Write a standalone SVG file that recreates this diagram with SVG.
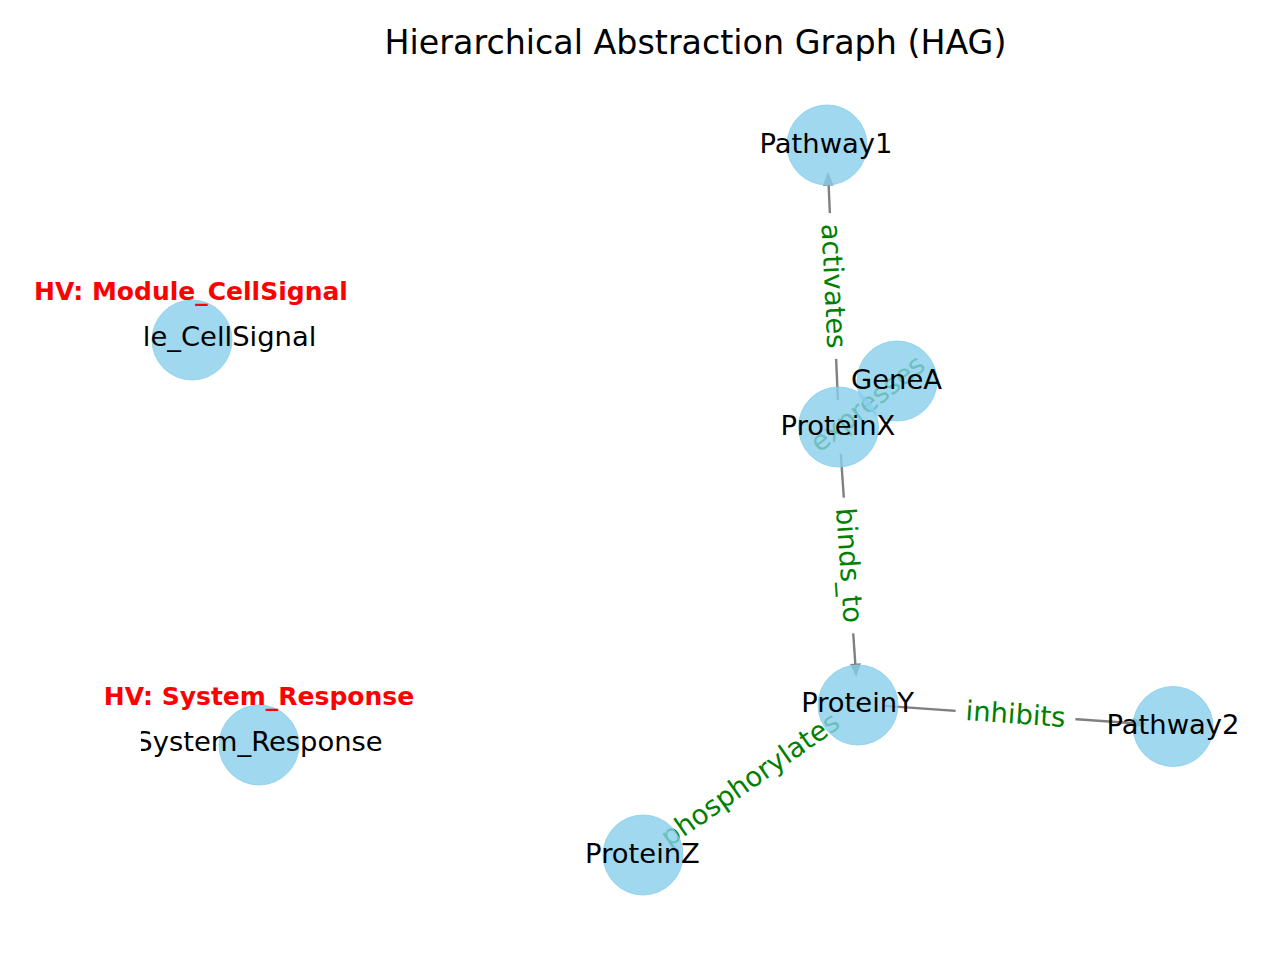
<svg xmlns="http://www.w3.org/2000/svg" width="1280" height="960" viewBox="0 0 1280 960">
<style>
.edge{stroke:#808080;stroke-width:2.4;fill:none}
.ah{fill:#808080}
.elbl{font-family:"DejaVu Sans",sans-serif;font-size:27.4px;fill:#008000;text-anchor:middle}
.ebox{fill:#ffffff}
.node{fill:#87CEEB;fill-opacity:0.8;stroke:#87CEEB;stroke-opacity:0.8;stroke-width:1}
.nlbl{font-family:"DejaVu Sans",sans-serif;font-size:27.4px;fill:#000000;text-anchor:middle}
.hv{font-family:"DejaVu Sans",sans-serif;font-weight:bold;font-size:25px;fill:#ff0000;text-anchor:middle}
.title{font-family:"DejaVu Sans",sans-serif;font-size:33.3px;fill:#000000;text-anchor:middle}
</style>
<defs>
<clipPath id="axclip"><rect x="141" y="0" width="1139" height="960"/></clipPath>
</defs>
<rect width="1280" height="960" fill="#ffffff"/>
<text class="title" x="695.5" y="54">Hierarchical Abstraction Graph (HAG)</text>
<g id="connectors">
<line class="edge" x1="837.9" y1="400" x2="828.6" y2="184"/>
<polygon class="ah" points="828.1,172 822.8,186 833.6,185.5"/>
<line class="edge" x1="875.8" y1="397.8" x2="860.2" y2="410.2"/>
<line class="edge" x1="840.8" y1="453.9" x2="855.4" y2="665"/>
<polygon class="ah" points="856.2,677.1 850.1,664 860.9,663.2"/>
<line class="edge" x1="884.9" y1="705.9" x2="1134" y2="723.3"/>
<polygon class="ah" points="1146.1,724.1 1133.4,717.8 1132.6,728.6"/>
<line class="edge" x1="835.9" y1="719.5" x2="675" y2="832.6"/>
<polygon class="ah" points="665.1,839.5 672,826.2 678.2,835"/>
</g>
<g id="edge-labels">
<g transform="translate(833,286) rotate(87.3)"><rect class="ebox" x="-73" y="-20" width="146" height="40" rx="6"/><text class="elbl" x="0" y="8.5">activates</text></g>
<g transform="translate(868,404) rotate(-38.4)"><rect class="ebox" x="-79" y="-20" width="158" height="40" rx="6"/><text class="elbl" x="0" y="8.5">expresses</text></g>
<g transform="translate(848.5,565.5) rotate(86.1)"><rect class="ebox" x="-68" y="-20" width="136" height="40" rx="6"/><text class="elbl" x="0" y="8.5">binds_to</text></g>
<g transform="translate(1015.5,715) rotate(4)"><rect class="ebox" x="-60" y="-20" width="120" height="40" rx="6"/><text class="elbl" x="0" y="8.5">inhibits</text></g>
<g transform="translate(750.5,780) rotate(-35.1)"><rect class="ebox" x="-115" y="-20" width="230" height="40" rx="6"/><text class="elbl" x="0" y="8.5">phosphorylates</text></g>
</g>
<g id="node-Pathway1"><circle class="node" cx="827" cy="145" r="40"/><text class="nlbl" x="826" y="152.5" clip-path="url(#axclip)">Pathway1</text></g>
<g id="node-GeneA"><circle class="node" cx="897" cy="381" r="40"/><text class="nlbl" x="896.5" y="388.5" clip-path="url(#axclip)">GeneA</text></g>
<g id="node-ProteinX"><circle class="node" cx="838.5" cy="427" r="40"/><text class="nlbl" x="838" y="434.5" clip-path="url(#axclip)">ProteinX</text></g>
<g id="node-ProteinY"><circle class="node" cx="858" cy="705" r="40"/><text class="nlbl" x="857.5" y="712" clip-path="url(#axclip)">ProteinY</text></g>
<g id="node-Pathway2"><circle class="node" cx="1173" cy="726.5" r="40"/><text class="nlbl" x="1173" y="733.5" clip-path="url(#axclip)">Pathway2</text></g>
<g id="node-ProteinZ"><circle class="node" cx="643" cy="855" r="40"/><text class="nlbl" x="642.5" y="862.5" clip-path="url(#axclip)">ProteinZ</text></g>
<g id="node-Module_CellSignal"><circle class="node" cx="192" cy="340" r="40"/><text class="nlbl" x="192" y="345.5" clip-path="url(#axclip)">Module_CellSignal</text><text class="hv" x="191" y="300">HV: Module_CellSignal</text></g>
<g id="node-System_Response"><circle class="node" cx="259" cy="745" r="40"/><text class="nlbl" x="259" y="750.5" clip-path="url(#axclip)">System_Response</text><text class="hv" x="259" y="705">HV: System_Response</text></g>
</svg>
